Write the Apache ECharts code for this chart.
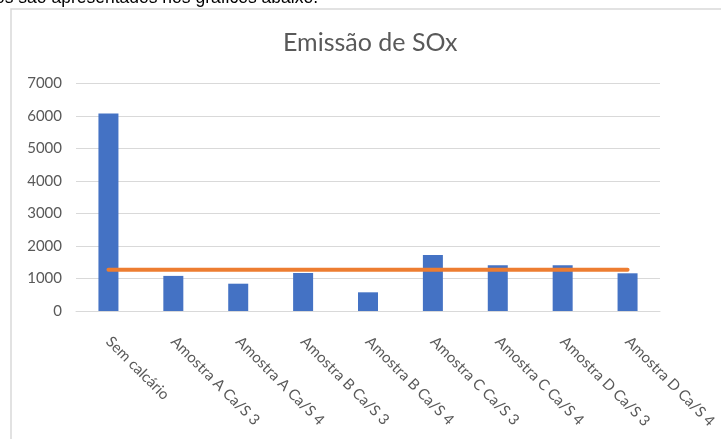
<!DOCTYPE html>
<html>
<head>
<meta charset="utf-8">
<script src="https://cdn.jsdelivr.net/npm/echarts@6/dist/echarts.min.js"></script>
<style>
  html, body { margin: 0; padding: 0; background: #fff; }
  #main { width: 721px; height: 439px; }
</style>
</head>
<body>
<div id="main"></div>
<script>
// dados
var categories = ['Sem calcário', 'Amostra A Ca/S 3', 'Amostra A Ca/S 4', 'Amostra B Ca/S 3',
  'Amostra B Ca/S 4', 'Amostra C Ca/S 3', 'Amostra C Ca/S 4', 'Amostra D Ca/S 3', 'Amostra D Ca/S 4'];
var emissao = [6080, 1080, 840, 1170, 575, 1720, 1405, 1405, 1160];
var limite = [1270, 1270, 1270, 1270, 1270, 1270, 1270, 1270, 1270];
var yTicks = [0, 1000, 2000, 3000, 4000, 5000, 6000, 7000];

var labelColor = '#595959';
var gridColor = '#d9d9d9';

var myChart = echarts.init(document.getElementById('main'));
myChart.setOption({
  animation: false,
  backgroundColor: '#fff',
  title: {
    text: 'Emissão de SOx',
    left: 283,
    top: 30,
    padding: 0,
    textStyle: {
      fontFamily: 'Lato',
      fontSize: 25,
      fontWeight: 'normal',
      color: labelColor
    }
  },
  graphic: [
    {
      // resto do parágrafo acima do gráfico, cortado no topo
      type: 'text',
      x: 318,
      y: -2,
      style: {
        text: 'os são apresentados nos gráficos abaixo.',
        font: '17.5px "Liberation Sans"',
        fill: '#000',
        align: 'right',
        verticalAlign: 'middle'
      }
    },
    {
      type: 'rect',
      shape: { x: 11, y: 9, width: 800, height: 500 },
      style: { fill: 'none', stroke: gridColor, lineWidth: 1.5 }
    }
  ],
  grid: {
    left: 76,
    right: 61,
    top: 83.5,
    bottom: 128
  },
  xAxis: {
    type: 'category',
    data: categories,
    axisLine: { lineStyle: { color: gridColor, width: 1 } },
    axisTick: { show: false },
    axisLabel: {
      rotate: -45,
      interval: 0,
      margin: 28,
      fontFamily: 'Lato',
      fontSize: 15,
      color: labelColor
    }
  },
  yAxis: {
    type: 'value',
    min: yTicks[0],
    max: yTicks[yTicks.length - 1],
    interval: 1000,
    axisLine: { show: false },
    axisTick: { show: false },
    axisLabel: {
      margin: 14,
      fontFamily: 'Lato',
      fontSize: 15,
      color: labelColor,
      formatter: function (v) { return String(v); }
    },
    splitLine: { lineStyle: { color: gridColor, width: 1 } }
  },
  series: [
    {
      name: 'Emissão',
      type: 'bar',
      data: emissao,
      barWidth: 20,
      itemStyle: { color: '#4472c4' }
    },
    {
      name: 'Limite',
      type: 'line',
      data: limite,
      symbol: 'none',
      lineStyle: { color: '#ed7d31', width: 4, cap: 'round' },
      z: 3
    }
  ]
});
</script>
</body>
</html>
